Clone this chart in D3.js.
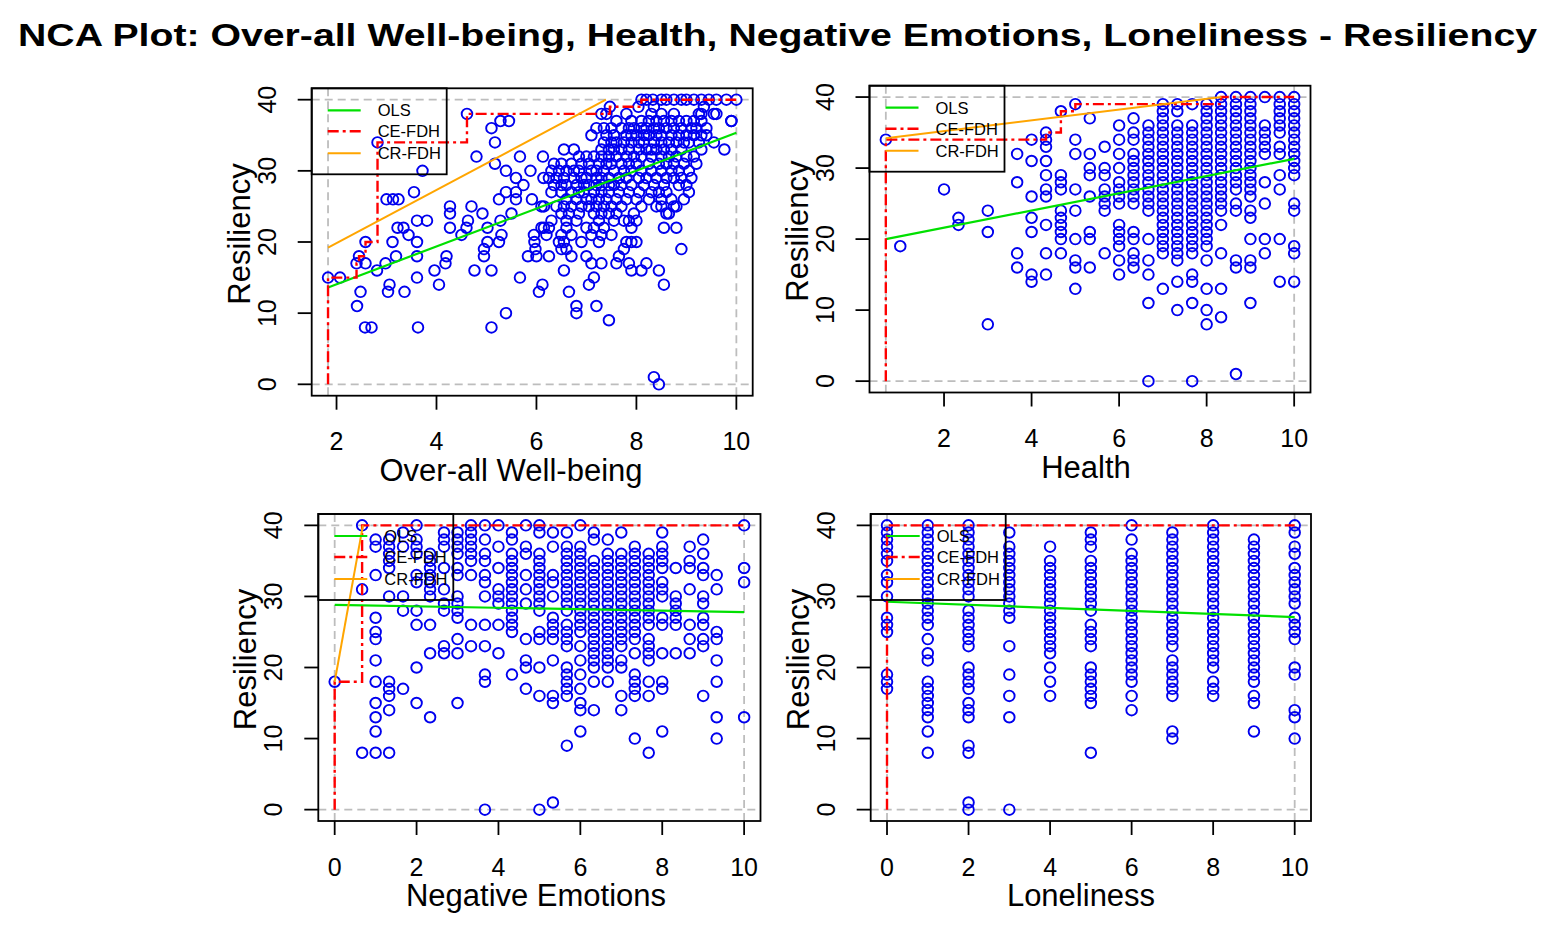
<!DOCTYPE html>
<html>
<head>
<meta charset="utf-8">
<script src="https://cdn.jsdelivr.net/npm/d3@7"></script>
<style>
  body { margin: 0; background: #fff; }
  svg { display: block; }
  text { font-family: Arial, "Liberation Sans", sans-serif; fill: #000; }
</style>
</head>
<body>
<div id="chart"></div>
<script>
// ---- data ----
const chartTitle = "NCA Plot: Over-all Well-being, Health, Negative Emotions, Loneliness - Resiliency";
const panelTitles = ["Over-all Well-being", "Health", "Negative Emotions", "Loneliness"];
const yTitle = "Resiliency";
const legendLabels = ["OLS", "CE-FDH", "CR-FDH"];

// Over-all Well-being: scattered points (x, resiliency)
const wellbeingPts = [
  [1.83,15],[2.07,15],[2.4,17],[2.45,18],[2.58,20],[2.58,17],[2.41,11],[2.48,13],[2.57,8],[2.7,8],
  [2.81,16],[2.82,34],[2.98,17],[3.0,26],[3.13,26],[3.24,26],[3.06,14],[3.03,13],[3.12,20],[3.19,18],
  [3.22,22],[3.34,22],[3.44,21],[3.36,13],[3.55,27],[3.61,23],[3.61,20],[3.61,18],[3.61,15],[3.63,8],
  [3.72,30],[3.81,23],[3.96,16],[4.05,14],[4.2,18],[4.18,17],[4.27,25],[4.27,24],[4.27,22],[4.5,21],
  [4.6,22],[4.63,23],[4.61,38],[4.7,25],[4.76,16],[4.8,32],[4.92,24],[4.95,19],[4.95,18],[5.02,22],
  [5.02,20],[5.1,8],[5.1,16],[5.1,36],[5.17,34],[5.17,31],[5.25,26],[5.25,20],[5.28,23],[5.3,21],
  [5.28,37],[5.45,37],[5.39,27],[5.39,30],[5.39,10],[5.5,24],[5.59,29],[5.59,27],[5.59,26],[5.67,15],
  [5.67,32],[5.74,28],[5.83,18],[5.88,30],[5.91,26],[5.95,21],[5.96,20],[5.98,19],[6.0,18],[6.05,13],
  [6.12,14],[6.13,32],[6.14,29],[6.15,25],[6.15,22],[8.35,1],[8.45,0],[9.6,38],[9.9,37],[9.55,34],
  [9.76,33],[9.4,36],[9.2,31],[9.1,29],[9.05,27],[8.95,26],[8.8,25],[8.9,19],[9.4,35],[9.25,38]
];
// Over-all Well-being: dense cloud, one row of x values per resiliency level
const wbRowY = [40, 39, 38, 37, 36, 35, 34, 33, 32, 31, 30, 29, 28, 27, 26, 25, 24, 23, 22, 21, 20, 19, 18, 17, 16, 15, 14, 13, 11, 10, 9];
const wbRowX = [
  [8.1,8.2,8.33,8.5,8.6,8.75,8.9,9.0,9.15,9.3,9.45,9.6,9.8,10],
  [7.47,8.04,8.35,9.35],
  [7.3,7.4,7.8,8.3,8.5,8.75,9.3,9.55],
  [7.6,7.9,8.1,8.25,8.4,8.55,8.7,8.85,9.0,9.15,9.3,9.9],
  [7.2,7.35,7.5,7.7,7.85,7.95,8.1,8.2,8.35,8.45,8.6,8.75,8.9,9.1,9.2],
  [7.1,7.4,7.55,7.8,7.9,8.0,8.15,8.25,8.4,8.5,8.7,8.85,9.0,9.15,9.3],
  [7.35,7.5,7.6,7.75,7.9,8.05,8.15,8.35,8.5,8.65,8.8,8.95,9.05,9.25],
  [6.55,6.75,7.3,7.45,7.55,7.7,7.85,8.05,8.2,8.3,8.4,8.55,8.7,8.9,9.3],
  [6.85,7.0,7.15,7.3,7.45,7.6,7.8,7.95,8.1,8.3,8.5,8.65,8.8,9.0,9.15],
  [6.35,6.5,6.7,6.9,7.05,7.25,7.4,7.5,7.7,7.85,8.0,8.25,8.45,8.6,8.75,8.95],
  [6.3,6.45,6.6,6.75,6.85,7.1,7.2,7.35,7.55,7.75,7.9,8.1,8.3,8.5,8.7,8.85,9.05],
  [6.25,6.4,6.55,6.75,6.9,7.0,7.2,7.3,7.45,7.65,7.8,8.05,8.2,8.4,8.6,8.75,8.9],
  [6.35,6.5,6.6,6.8,6.95,7.05,7.2,7.3,7.45,7.55,7.7,7.9,8.15,8.35,8.55,8.85,9.0],
  [6.3,6.5,6.7,6.85,6.95,7.15,7.3,7.45,7.65,7.85,8.05,8.3,8.45,8.6],
  [6.6,6.8,7.0,7.1,7.25,7.4,7.6,7.8,8.0,8.25,8.5,8.7],
  [6.1,6.4,6.55,6.7,6.9,7.05,7.2,7.35,7.5,7.7,8.1,8.4,8.5,8.75],
  [6.5,6.65,6.85,7.15,7.3,7.45,7.6,7.95,8.6,8.65],
  [6.3,6.6,6.8,7.25,7.55,7.75,7.85,8.0],
  [6.1,6.25,6.6,7.0,7.15,7.35,7.9,8.55,8.8],
  [6.2,6.5,6.7,7.1,7.3,7.5],
  [6.45,6.55,6.9,7.25,7.8,7.9,8.0],
  [6.5,6.6,7.75],
  [6.25,6.7,7.0,7.65],
  [7.1,7.3,7.6,7.85,8.2],
  [6.55,7.9,8.1,8.45],
  [7.15],
  [7.05,8.55],
  [6.65],
  [6.8,7.2],
  [6.8],
  [7.45]
];

// Health: x columns and the resiliency values in each
const healthX = [0.67,1,2,2.33,3,3.67,4,4.33,4.67,5,5.33,5.67,6,6.33,6.67,7,7.33,7.67,8,8.33,8.67,9,9.33,9.67,10];
const healthRes = [
  [34],[19],[27],[23,22],[24,21,8],[32,28,18,16],[34,31,26,23,21,15,14],
  [35,34,33,31,29,27,26,22,18,15],[38,29,28,27,24,23,22,21,20,18],[39,34,32,27,24,20,17,16,13],
  [37,32,30,29,26,21,20,16],[33,30,29,27,26,25,24,18],[36,34,32,30,28,27,26,25,22,21,20,19,17,15],
  [37,35,34,32,31,30,29,28,27,26,25,21,20,18,17,16],
  [36,35,34,33,32,31,30,29,28,27,26,25,24,20,17,15,11,0],
  [39,38,37,36,35,34,33,32,31,30,29,28,27,26,25,24,23,22,21,20,19,18,13],
  [39,38,36,35,34,33,32,31,30,29,28,27,26,25,24,23,22,21,20,19,18,17,14,10],
  [39,36,35,34,33,32,31,30,29,28,27,26,25,24,23,22,21,20,19,18,15,14,11,0],
  [39,38,37,36,35,34,33,32,31,30,29,28,27,26,25,24,23,22,21,20,19,17,13,10,8],
  [40,39,38,37,36,35,34,33,32,31,30,29,28,27,26,25,24,22,18,13,9],
  [40,39,38,37,36,35,34,33,32,31,30,29,28,27,25,24,17,16,1],
  [40,39,38,37,36,35,34,33,32,31,30,29,28,27,26,24,23,20,17,16,11],
  [40,36,35,34,33,32,28,25,20,18],
  [40,39,38,37,36,35,33,32,29,27,20,14],
  [40,39,38,37,36,35,34,33,32,31,30,29,25,24,19,18,14]
];

// Negative Emotions
const negX = [0,0.67,1,1.33,1.67,2,2.33,2.67,3,3.33,3.67,4,4.33,4.67,5,5.33,5.67,6,6.33,6.67,7,7.33,7.67,8,8.33,8.67,9,9.33,10];
const negRes = [
  [18],[40,31,8],[38,37,33,27,25,24,21,18,15,13,11,8],[38,37,36,35,34,30,18,17,16,14,8],
  [39,37,30,28,17],[40,38,37,36,33,32,28,26,20,15],[36,35,34,33,32,31,30,26,22,13],
  [39,38,37,34,31,29,28,23,22],[39,38,37,36,34,33,30,29,28,27,24,22,15],
  [40,39,38,37,36,35,33,26,23],[40,38,36,35,33,32,30,26,23,19,18,0],[40,37,34,31,30,29,26,22],
  [39,38,36,35,34,33,32,31,30,29,28,27,26,25,19],[40,37,36,33,31,29,24,21,20,17],
  [40,39,36,35,34,33,32,31,30,29,28,25,24,20,16,0],[39,37,33,32,30,27,26,25,24,21,16,15,1],
  [39,37,36,35,34,33,32,31,30,29,28,26,25,24,23,20,19,18,17,16,9],
  [40,37,36,35,34,33,32,31,30,29,28,27,26,25,23,21,19,17,15,14,11],
  [39,38,35,34,33,32,31,30,29,28,27,26,25,24,23,22,21,20,18,14],
  [38,36,35,34,33,32,31,30,29,28,27,26,25,24,23,22,21,20,18],
  [39,36,35,34,33,32,31,30,29,28,27,26,25,24,23,21,20,16,14],
  [37,36,35,34,33,32,31,30,29,28,27,26,25,24,22,19,18,17,16,10],
  [36,35,34,33,32,31,30,29,28,27,26,24,23,22,21,18,16,8],
  [39,37,36,35,34,32,31,30,27,26,22,18,17,11],
  [34,30,29,28,27,26,22],[37,35,34,31,26,24,22],[38,36,34,33,30,29,27,26,24,23,16],
  [33,31,25,24,21,18,13,10],[40,34,32,13]
];

// Loneliness
const loneX = [0,1,2,3,4,5,6,7,8,9,10];
const loneRes = [
  [40,39,38,37,36,35,33,32,30,27,26,25,19,18,17],
  [40,39,38,37,36,35,34,33,32,31,30,29,28,27,26,24,22,21,18,17,16,15,14,13,11,8],
  [40,39,38,37,36,35,34,33,32,31,30,28,27,26,25,24,23,20,19,18,17,15,14,13,9,8,1,0],
  [39,37,36,35,34,33,32,31,30,29,28,27,23,19,16,13,0],
  [37,35,34,33,32,31,30,29,28,27,26,25,24,23,22,20,18,16],
  [39,38,37,35,34,33,32,31,30,29,28,26,25,24,23,20,19,18,17,16,15,8],
  [40,38,36,35,34,33,32,31,30,29,28,27,26,25,24,23,22,21,20,19,18,16,14],
  [39,38,37,36,35,34,33,32,31,30,29,28,27,26,25,24,23,21,20,19,18,17,16,11,10],
  [40,39,38,37,36,35,34,33,32,31,30,29,28,27,26,25,24,23,22,21,20,18,17,16],
  [38,37,36,35,34,33,32,31,30,29,28,27,26,25,24,23,22,21,20,19,18,16,15,11],
  [40,39,37,36,34,33,32,31,30,29,27,26,25,24,20,19,14,13,10]
];

// OLS line: fitted y at the smallest and the largest x of each panel
const olsStartY = [13.6, 20.0, 28.8, 29.25];
const olsEndY = [35.35, 31.3, 27.8, 27.1];
// CR-FDH ceiling line: two points (none visible in the last one)
const crFrom = [[1.83, 19.2], [0.67, 34.2], [0, 18], null];
const crTo = [[7.39, 40], [8.34, 40], [0.69, 40], null];

const xTicksTop = [2, 4, 6, 8, 10];
const xTicksBottom = [0, 2, 4, 6, 8, 10];
const yTicks = [0, 10, 20, 30, 40];

// ---- layout ----
const boxes = [
  {left: 311.7, right: 752.7, top: 88.3, bottom: 395.7},
  {left: 869.5, right: 1310.5, top: 85.7, bottom: 392.5},
  {left: 318.3, right: 760.5, top: 514, bottom: 821},
  {left: 870.7, right: 1311, top: 514, bottom: 821}
];
const xTitleCenter = [511, 1086, 536, 1081];

const colOLS = "#00e000", colCE = "#ff0000", colCR = "#ffa500", colPts = "#0000ee";

function columnsToPts(xs, cols) {
  const out = [];
  xs.forEach((x, i) => cols[i].forEach(y => out.push([x, y])));
  return out;
}

const wbPts = wellbeingPts.concat(...wbRowY.map((y, i) => wbRowX[i].map(x => [x, y])));

const panels = [
  {pts: wbPts, ticks: xTicksTop},
  {pts: columnsToPts(healthX, healthRes), ticks: xTicksTop},
  {pts: columnsToPts(negX, negRes), ticks: xTicksBottom},
  {pts: columnsToPts(loneX, loneRes), ticks: xTicksBottom}
];

const svg = d3.select("#chart").append("svg")
    .attr("width", 1559)
    .attr("height", 932);
svg.append("rect").attr("width", 1559).attr("height", 932).attr("fill", "#fff");

// Title, fitted to the width it has in the picture
svg.append("text")
    .attr("x", 777.5)
    .attr("y", 46)
    .attr("text-anchor", "middle")
    .attr("font-weight", "bold")
    .attr("font-size", 32)
    .attr("textLength", 1519)
    .attr("lengthAdjust", "spacingAndGlyphs")
    .text(chartTitle);

// CE-FDH step line from the points
function ceFdh(pts, yMin, xMax) {
  const s = pts.slice().sort((a, b) => a[0] - b[0] || b[1] - a[1]);
  const path = [[s[0][0], yMin]];
  let m = -Infinity;
  s.forEach(([px, py]) => {
    if (py > m) {
      if (m > -Infinity) path.push([px, m]);
      path.push([px, py]);
      m = py;
    }
  });
  path.push([xMax, m]);
  return path;
}

function drawPanel(p, i) {
  const box = boxes[i];
  const [x0, x1] = d3.extent(p.pts, d => d[0]);
  const [y0, y1] = d3.extent(p.pts, d => d[1]);
  const padX = (x1 - x0) * 0.04, padY = (y1 - y0) * 0.04;

  const x = d3.scaleLinear().domain([x0 - padX, x1 + padX]).range([box.left, box.right]);
  const y = d3.scaleLinear().domain([y0 - padY, y1 + padY]).range([box.bottom, box.top]);

  const g = svg.append("g");
  const clipId = "clip" + i;
  g.append("clipPath").attr("id", clipId)
    .append("rect")
      .attr("x", box.left).attr("y", box.top)
      .attr("width", box.right - box.left).attr("height", box.bottom - box.top);
  const plot = g.append("g").attr("clip-path", `url(#${clipId})`);

  // scope lines (grey dashed)
  const scope = plot.append("g")
      .attr("stroke", "#bdbdbd")
      .attr("stroke-width", 1.8)
      .attr("stroke-dasharray", "8,5");
  [y0, y1].forEach(v => scope.append("line")
      .attr("x1", box.left).attr("x2", box.right)
      .attr("y1", y(v)).attr("y2", y(v)));
  [x0, x1].forEach(v => scope.append("line")
      .attr("x1", x(v)).attr("x2", x(v))
      .attr("y1", box.top).attr("y2", box.bottom));

  // points
  plot.append("g").selectAll("circle")
    .data(p.pts)
    .enter()
    .append("circle")
      .attr("cx", d => x(d[0]))
      .attr("cy", d => y(d[1]))
      .attr("r", 5.3)
      .attr("fill", "none")
      .attr("stroke", colPts)
      .attr("stroke-width", 1.9);

  const line = d3.line().x(d => x(d[0])).y(d => y(d[1]));

  // OLS
  plot.append("path")
      .attr("d", line([[x0, olsStartY[i]], [x1, olsEndY[i]]]))
      .attr("fill", "none")
      .attr("stroke", colOLS)
      .attr("stroke-width", 2.2);

  // CE-FDH
  plot.append("path")
      .attr("d", line(ceFdh(p.pts, y0, x1)))
      .attr("fill", "none")
      .attr("stroke", colCE)
      .attr("stroke-width", 2.4)
      .attr("stroke-dasharray", "11,4,3,4");

  // CR-FDH
  if (crFrom[i]) {
    plot.append("path")
        .attr("d", line([crFrom[i], crTo[i]]))
        .attr("fill", "none")
        .attr("stroke", colCR)
        .attr("stroke-width", 2);
  }

  // legend (no fill, like the original)
  const lg = g.append("g").attr("transform", `translate(${box.left},${box.top})`);
  lg.append("rect")
      .attr("width", 135).attr("height", 86)
      .attr("fill", "none").attr("stroke", "#000").attr("stroke-width", 1.8);
  const legendStyle = [
    {c: colOLS, dash: null, w: 2.2},
    {c: colCE, dash: "11,4,3,4", w: 2.4},
    {c: colCR, dash: null, w: 2}
  ];
  [22, 43, 65].forEach((ly, k) => {
    lg.append("line")
        .attr("x1", 16).attr("x2", 49)
        .attr("y1", ly).attr("y2", ly)
        .attr("stroke", legendStyle[k].c)
        .attr("stroke-width", legendStyle[k].w)
        .attr("stroke-dasharray", legendStyle[k].dash);
    lg.append("text")
        .attr("x", 66).attr("y", ly)
        .attr("dy", "0.36em")
        .attr("font-size", 16.5)
        .text(legendLabels[k]);
  });

  // frame
  g.append("rect")
      .attr("x", box.left).attr("y", box.top)
      .attr("width", box.right - box.left).attr("height", box.bottom - box.top)
      .attr("fill", "none").attr("stroke", "#000").attr("stroke-width", 1.8);

  // x axis
  const xa = g.append("g");
  p.ticks.forEach(t => {
    xa.append("line")
        .attr("x1", x(t)).attr("x2", x(t))
        .attr("y1", box.bottom).attr("y2", box.bottom + 14)
        .attr("stroke", "#000").attr("stroke-width", 1.8);
    xa.append("text")
        .attr("x", x(t)).attr("y", box.bottom + 54.5)
        .attr("text-anchor", "middle")
        .attr("font-size", 25)
        .text(t);
  });
  xa.append("text")
      .attr("x", xTitleCenter[i]).attr("y", box.bottom + 85)
      .attr("text-anchor", "middle")
      .attr("font-size", 31)
      .text(panelTitles[i]);

  // y axis
  const ya = g.append("g");
  yTicks.forEach(t => {
    ya.append("line")
        .attr("x1", box.left - 14).attr("x2", box.left)
        .attr("y1", y(t)).attr("y2", y(t))
        .attr("stroke", "#000").attr("stroke-width", 1.8);
    ya.append("text")
        .attr("transform", `translate(${box.left - 45},${y(t)}) rotate(-90)`)
        .attr("text-anchor", "middle")
        .attr("dy", "0.36em")
        .attr("font-size", 25)
        .text(t);
  });
  ya.append("text")
      .attr("transform", `translate(${box.left - 62},${(box.top + box.bottom) / 2 - 8}) rotate(-90)`)
      .attr("text-anchor", "middle")
      .attr("font-size", 31)
      .text(yTitle);
}

panels.forEach(drawPanel);
</script>
</body>
</html>
